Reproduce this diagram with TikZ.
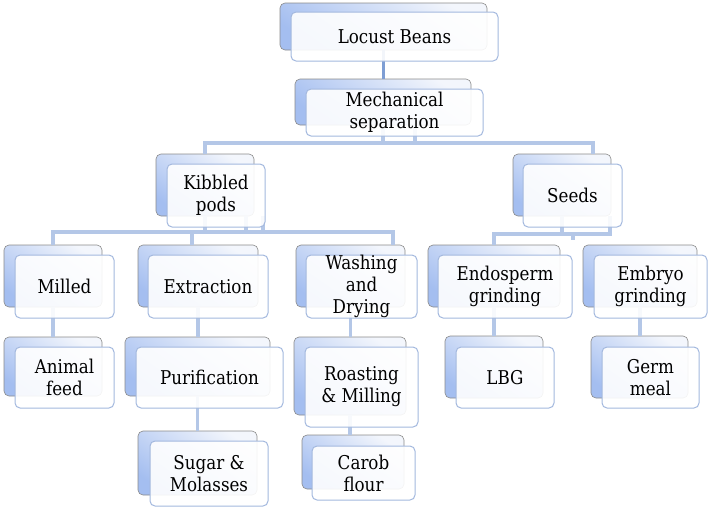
\documentclass[tikz,border=0pt]{standalone}
\usepackage{fontspec}
\setmainfont{DejaVu Serif}[FakeStretch=0.88]
\definecolor{connc}{HTML}{B4C7E7}
\definecolor{conndark}{HTML}{7E9ED4}
\definecolor{frontline}{HTML}{A3B8DE}
\definecolor{backtop}{HTML}{F3F6FC}
\definecolor{backbot}{HTML}{A4BEF0}
\definecolor{backline}{HTML}{8A8A8A}
\begin{document}
\begin{tikzpicture}[x=1pt,y=-1pt,
 backb/.style={draw=backline, line width=0.6pt, rounded corners=5pt, top color=backtop, bottom color=backbot, shading angle=-35, inner sep=0pt, outer sep=0pt},
 frontb/.style={draw=frontline, line width=1pt, rounded corners=5pt, fill=white, fill opacity=0.9, inner sep=0pt, outer sep=0pt},
 txt/.style={align=center, font=\rmfamily\fontsize{19}{22}\selectfont, inner sep=0pt},
 link/.style={draw=connc, line width=3.2pt},
 linkd/.style={draw=conndark, line width=3pt}]
\useasboundingbox (0,0) rectangle (708,507);
% back boxes
\node[backb, minimum width=207pt, minimum height=47pt] (locB) at (383.5,26.5) {};
\node[backb, minimum width=176pt, minimum height=46pt] (mechB) at (383,102) {};
\node[backb, minimum width=98pt, minimum height=62pt] (kibB) at (205,185) {};
\node[backb, minimum width=98pt, minimum height=62pt] (seedsB) at (562,185) {};
\node[backb, minimum width=98pt, minimum height=62pt] (milB) at (53,276) {};
\node[backb, minimum width=120pt, minimum height=62pt] (extB) at (198,276) {};
\node[backb, minimum width=109pt, minimum height=62pt] (washB) at (350.5,276) {};
\node[backb, minimum width=132pt, minimum height=62pt] (endoB) at (494,276) {};
\node[backb, minimum width=114pt, minimum height=62pt] (embB) at (640,276) {};
\node[backb, minimum width=98pt, minimum height=59pt] (aniB) at (53,366.5) {};
\node[backb, minimum width=145pt, minimum height=59pt] (purB) at (197.5,366.5) {};
\node[backb, minimum width=112pt, minimum height=78pt] (roaB) at (350,376) {};
\node[backb, minimum width=98pt, minimum height=62pt] (lbgB) at (494,367) {};
\node[backb, minimum width=97pt, minimum height=62pt] (germB) at (639.5,367) {};
\node[backb, minimum width=119pt, minimum height=64pt] (sugB) at (197.5,463) {};
\node[backb, minimum width=102pt, minimum height=54pt] (carB) at (353,462) {};
% connectors
\draw[linkd] (locB.south) -- (locB.south |- mechB.north);
\coordinate (mbL) at (205,143);
\coordinate (mbR) at (593,143);
\coordinate (ms2) at (415,143);
\draw[link] (kibB.north) -- (mbL) -- (mbR) -- (mbR |- seedsB.north);
\draw[link] (mechB.south) -- (mechB.south |- mbL);
\draw[link] (ms2 |- mechB.south) -- (ms2);
\coordinate (kbL) at (53,232);
\coordinate (kbR) at (393,232);
\coordinate (ku1) at (246,232);
\coordinate (ku2) at (263,232);
\coordinate (kd) at (192,232);
\draw[link] (milB.north) -- (kbL) -- (kbR) -- (kbR |- washB.north);
\draw[link] (kibB.south) -- (kibB.south |- kbL);
\draw[link] (ku1 |- kibB.south) -- (ku1);
\draw[link] (ku2 |- kibB.south) -- (ku2);
\draw[link] (kd) -- (kd |- extB.north);
\coordinate (sbL) at (494,234);
\coordinate (sbR) at (610,234);
\coordinate (sd) at (573,234);
\coordinate (sdE) at (573,240);
\draw[link] (endoB.north) -- (sbL) -- (sbR) -- (sbR |- seedsB.south);
\draw[link] (seedsB.south) -- (seedsB.south |- sbL);
\draw[link] (sd) -- (sdE);
\draw[link] (milB.south) -- (aniB.north);
\draw[link] (extB.south) -- (extB.south |- purB.north);
\draw[link] (washB.south) -- (washB.south |- roaB.north);
\draw[link] (endoB.south) -- (lbgB.north);
\draw[link] (embB.south) -- (embB.south |- germB.north);
\draw[link] (purB.south) -- (sugB.north);
\draw[link] (roaB.south) -- (roaB.south |- carB.north);
% front boxes
\node[frontb, minimum width=207pt, minimum height=49pt] (locF) at (394.5,36.5) {};
\node[frontb, minimum width=177pt, minimum height=47pt] (mechF) at (394.5,112.5) {};
\node[frontb, minimum width=98pt, minimum height=63pt] (kibF) at (216,195.5) {};
\node[frontb, minimum width=99pt, minimum height=63pt] (seedsF) at (572.5,195.5) {};
\node[frontb, minimum width=99pt, minimum height=63pt] (milF) at (64.5,286.5) {};
\node[frontb, minimum width=120pt, minimum height=63pt] (extF) at (208,286.5) {};
\node[frontb, minimum width=111pt, minimum height=63pt] (washF) at (361.5,286.5) {};
\node[frontb, minimum width=134pt, minimum height=63pt] (endoF) at (505,286.5) {};
\node[frontb, minimum width=113pt, minimum height=63pt] (embF) at (650.5,286.5) {};
\node[frontb, minimum width=99pt, minimum height=61pt] (aniF) at (64.5,377.5) {};
\node[frontb, minimum width=147pt, minimum height=61pt] (purF) at (209.5,377.5) {};
\node[frontb, minimum width=113pt, minimum height=80pt] (roaF) at (361.5,387) {};
\node[frontb, minimum width=98pt, minimum height=61pt] (lbgF) at (505,377.5) {};
\node[frontb, minimum width=97pt, minimum height=61pt] (germF) at (650.5,377.5) {};
\node[frontb, minimum width=118pt, minimum height=65pt] (sugF) at (209,473.5) {};
\node[frontb, minimum width=103pt, minimum height=54pt] (carF) at (363.5,473) {};
% texts
\node[txt] (locT) at (locF) {Locust Beans};
\node[txt] (mechT) at (mechF) {Mechanical\\separation};
\node[txt] (kibT) at (kibF) {Kibbled\\pods};
\node[txt] (seedsT) at (seedsF) {Seeds};
\node[txt] (milT) at (milF) {Milled};
\node[txt] (extT) at (extF) {Extraction};
\node[txt] (washT) at (washF) {Washing\\and\\Drying};
\node[txt] (endoT) at (endoF) {Endosperm\\grinding};
\node[txt] (embT) at (embF) {Embryo\\grinding};
\node[txt] (aniT) at (aniF) {Animal\\feed};
\node[txt] (purT) at (purF) {Purification};
\node[txt] (roaT) at (roaF) {Roasting\\\& Milling};
\node[txt] (lbgT) at (lbgF) {LBG};
\node[txt] (germT) at (germF) {Germ\\meal};
\node[txt] (sugT) at (sugF) {Sugar \&\\Molasses};
\node[txt] (carT) at (carF) {Carob\\flour};
\end{tikzpicture}
\end{document}
